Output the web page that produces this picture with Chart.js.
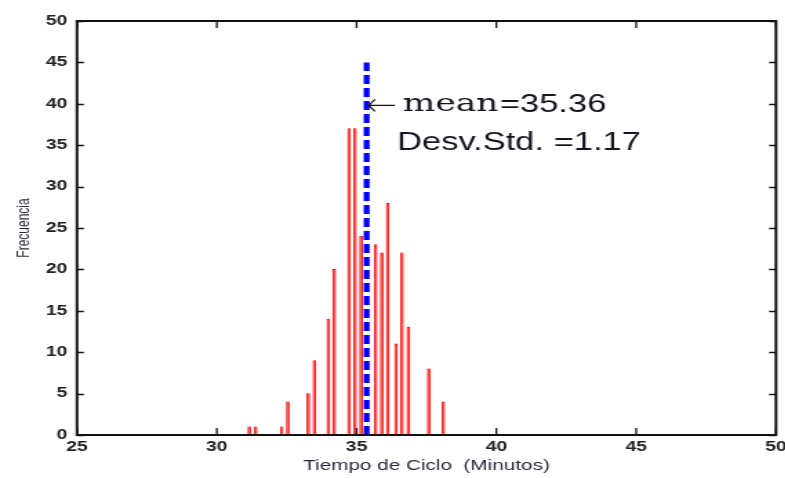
<!DOCTYPE html>
<html>
<head>
<meta charset="utf-8">
<script src="https://cdn.jsdelivr.net/npm/chart.js@4/dist/chart.umd.min.js"></script>
<style>
  html, body { margin: 0; padding: 0; background: #fff; overflow: hidden; }
  /* the source figure was widened ~1.38x after export, so we stretch the same way */
  #wrap { width: 569px; height: 478px; position: relative; transform: scaleX(1.38); transform-origin: 0 0; }
</style>
</head>
<body>
<div id="wrap"><canvas id="hist"></canvas></div>
<script>
// histogram bins (cycle time, minutes) and their frequencies
const binCenters = [31.16, 31.39, 32.32, 32.54, 33.27, 33.49, 33.99, 34.20, 34.73, 34.94,
                    35.16, 35.68, 35.90, 36.11, 36.41, 36.62, 36.85, 37.58, 38.10];
const counts     = [1, 1, 1, 4, 5, 9, 14, 20, 37, 37,
                    24, 23, 22, 28, 11, 22, 13, 8, 4];

const meanVal = 35.36;
const stdVal = 1.17;
const meanLineTop = 45;

const xTicks = [25, 30, 35, 40, 45, 50];
const yTicks = [0, 5, 10, 15, 20, 25, 30, 35, 40, 45, 50];

const tickFont = { family: 'Liberation Sans', size: 14, weight: 'bold' };

// MATLAB-like box with inward tick marks
const boxPlugin = {
  id: 'boxTicks',
  afterDatasetsDraw(chart) {
    const { ctx, chartArea: a, scales } = chart;
    ctx.save();
    ctx.strokeStyle = '#111';
    ctx.lineWidth = 1.3;
    xTicks.forEach(v => {
      const px = scales.x.getPixelForValue(v);
      ctx.beginPath();
      ctx.moveTo(px, a.bottom); ctx.lineTo(px, a.bottom - 7);
      ctx.moveTo(px, a.top); ctx.lineTo(px, a.top + 7);
      ctx.stroke();
    });
    yTicks.forEach(v => {
      const py = Math.round(scales.y.getPixelForValue(v)) + 0.5;
      ctx.beginPath();
      ctx.moveTo(a.left, py); ctx.lineTo(a.left + 5, py);
      ctx.moveTo(a.right, py); ctx.lineTo(a.right - 5, py);
      ctx.stroke();
    });
    ctx.lineWidth = 2;
    ctx.strokeRect(a.left, a.top, a.right - a.left, a.bottom - a.top);
    ctx.restore();
  }
};

// mean / std text next to the dashed line
const statsPlugin = {
  id: 'statsText',
  afterDatasetsDraw(chart) {
    const { ctx, scales } = chart;
    const mx = scales.x.getPixelForValue(meanVal);
    const y1 = scales.y.getPixelForValue(39.8);
    const y2 = scales.y.getPixelForValue(35.2);
    ctx.save();
    ctx.strokeStyle = '#111';
    ctx.fillStyle = '#151520';
    ctx.lineWidth = 1.2;
    // arrow
    ctx.beginPath();
    ctx.moveTo(mx + 1.5, y1); ctx.lineTo(mx + 20.5, y1);
    ctx.moveTo(mx + 6, y1 - 6); ctx.lineTo(mx + 1.5, y1); ctx.lineTo(mx + 6, y1 + 6);
    ctx.stroke();
    ctx.textBaseline = 'middle';
    ctx.font = '25px "DejaVu Serif"';
    const t1 = 'mean';
    ctx.fillText(t1, mx + 26, y1 - 1);
    const w1 = ctx.measureText(t1).width;
    ctx.font = '25px "Liberation Sans"';
    ctx.fillText('=' + meanVal.toFixed(2), mx + 26 + w1 + 1, y1);
    ctx.fillText('Desv.Std. =' + stdVal.toFixed(2), mx + 22, y2);
    ctx.restore();
  }
};

new Chart(document.getElementById('hist'), {
  type: 'bar',
  data: {
    datasets: [
      {
        type: 'line',
        data: [{ x: meanVal, y: 0 }, { x: meanVal, y: meanLineTop }],
        borderColor: '#0000ff',
        borderWidth: 4.3,
        borderDash: [9, 4],
        pointRadius: 0,
        order: 0
      },
      {
        type: 'bar',
        data: binCenters.map((x, i) => ({ x: x, y: counts[i] })),
        backgroundColor: 'rgba(255, 110, 110, 0.7)',
        borderColor: '#ff0000',
        borderWidth: 0.6,
        borderSkipped: false,
        barThickness: 2,
        order: 1
      }
    ]
  },
  options: {
    responsive: true,
    maintainAspectRatio: false,
    animation: false,
    layout: { padding: { left: 0, right: 6.7, top: 21, bottom: 0 } },
    plugins: { legend: { display: false }, tooltip: { enabled: false } },
    scales: {
      x: {
        type: 'linear',
        offset: false,
        min: 25, max: 50,
        afterBuildTicks: s => { s.ticks = xTicks.map(v => ({ value: v })); },
        afterFit: s => { s.height = 43; s.paddingLeft = 0; s.paddingRight = 0; },
        grid: { display: false, drawTicks: false, tickLength: 0, offset: false },
        border: { display: false },
        ticks: { color: '#222', font: tickFont, padding: 4, maxRotation: 0 },
        title: {
          display: true,
          text: 'Tiempo de Ciclo  (Minutos)',
          color: '#2a2a3a',
          font: { family: 'Liberation Sans', size: 15 },
          padding: { top: 0, bottom: 3 }
        }
      },
      y: {
        min: 0, max: 50,
        afterBuildTicks: s => { s.ticks = yTicks.map(v => ({ value: v })); },
        afterFit: s => { s.width = 55.8; },
        grid: { display: false, drawTicks: false, tickLength: 0 },
        border: { display: false },
        ticks: { color: '#222', font: tickFont, padding: 7 },
        title: {
          display: true,
          text: 'Frecuencia',
          color: '#2a2a3a',
          font: { family: 'Liberation Sans', size: 12 },
          padding: { top: 10, bottom: 0 }
        }
      }
    }
  },
  plugins: [boxPlugin, statsPlugin]
});
</script>
</body>
</html>
